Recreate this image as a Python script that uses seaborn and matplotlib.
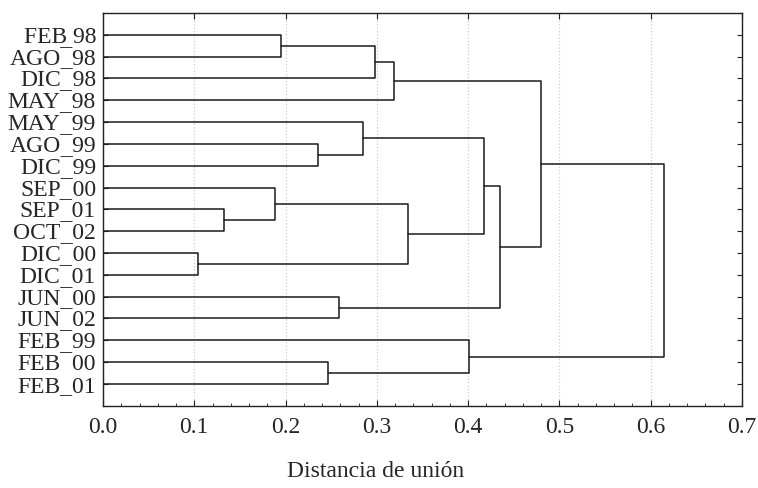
import pandas as pd
import seaborn as sns
import matplotlib.pyplot as plt
from matplotlib.ticker import MultipleLocator

# leaf labels, top to bottom (as printed in the original figure)
leaves = ['FEB 98', 'AGO¯98', 'DIC¯98', 'MAY¯98', 'MAY¯99', 'AGO¯99', 'DIC¯99',
          'SEP¯00', 'SEP¯01', 'OCT¯02', 'DIC¯00', 'DIC¯01', 'JUN¯00', 'JUN¯02',
          'FEB¯99', 'FEB¯00', 'FEB_01']

# linkage: indices < 17 are leaves, 17+ are earlier merges (in order)
merge_left = [0, 17, 18, 5, 4, 8, 7, 10, 23, 21, 12, 26, 19, 15, 14, 29]
merge_right = [1, 2, 3, 6, 20, 9, 22, 11, 24, 25, 13, 27, 28, 16, 30, 31]
merge_dist = [0.195, 0.298, 0.319, 0.235, 0.285, 0.133, 0.188, 0.104,
              0.334, 0.417, 0.259, 0.435, 0.480, 0.246, 0.401, 0.615]

x_ticks = [0.0, 0.1, 0.2, 0.3, 0.4, 0.5, 0.6, 0.7]
x_tick_labels = ['0.0', '0.1', '0.2', '0.3', '0.4', '0.5', '0.6', '0.7']


def dendrogram_segments(n_leaves, left, right, dist):
    pos = {i: float(i) for i in range(n_leaves)}
    height = {i: 0.0 for i in range(n_leaves)}
    rows = []
    for k, (a, b, d) in enumerate(zip(left, right, dist)):
        path = [(height[a], pos[a]), (d, pos[a]), (d, pos[b]), (height[b], pos[b])]
        for order, (x, y) in enumerate(path):
            rows.append({'link': k, 'order': order, 'x': x, 'y': y})
        new = n_leaves + k
        pos[new] = (pos[a] + pos[b]) / 2
        height[new] = d
    return pd.DataFrame(rows)


sns.set_style('ticks')
plt.rcParams['font.family'] = ['Liberation Serif', 'DejaVu Serif']
plt.rcParams['font.size'] = 17

segs = dendrogram_segments(len(leaves), merge_left, merge_right, merge_dist)

fig = plt.figure(figsize=(7.58, 4.88), dpi=100)
ax = fig.add_axes([0.1359, 0.1686, 0.843, 0.8048])

ax.grid(axis='x', which='major', ls=':', color='#cfcfcf', lw=0.9)
sns.lineplot(data=segs, x='x', y='y', units='link', estimator=None, sort=False,
             color='#1a1a1a', lw=1.1, ax=ax)

ax.set_xlim(0, 0.7)
ax.set_ylim(len(leaves), -1)
ax.set_xticks(x_ticks)
ax.set_xticklabels(x_tick_labels)
ax.xaxis.set_minor_locator(MultipleLocator(0.02))
ax.set_yticks(range(len(leaves)))
ax.set_yticklabels(leaves)
ax.set_xlabel('')
ax.set_ylabel('')

for side in ['left', 'right', 'top', 'bottom']:
    ax.spines[side].set_visible(True)
    ax.spines[side].set_color('#222222')
    ax.spines[side].set_linewidth(1.0)

ax.tick_params(axis='x', which='major', direction='in', length=4, top=True,
               pad=8, labelsize=17, color='#222222')
ax.tick_params(axis='x', which='minor', direction='in', length=2.5, top=False,
               color='#222222')
ax.tick_params(axis='y', which='major', direction='in', length=3.5, left=True,
               right=True, pad=5, labelsize=17, color='#222222')

fig.text(0.496, 0.012, 'Distancia de unión', ha='center', va='bottom', fontsize=17)

fig.savefig('out.png', dpi=100)
